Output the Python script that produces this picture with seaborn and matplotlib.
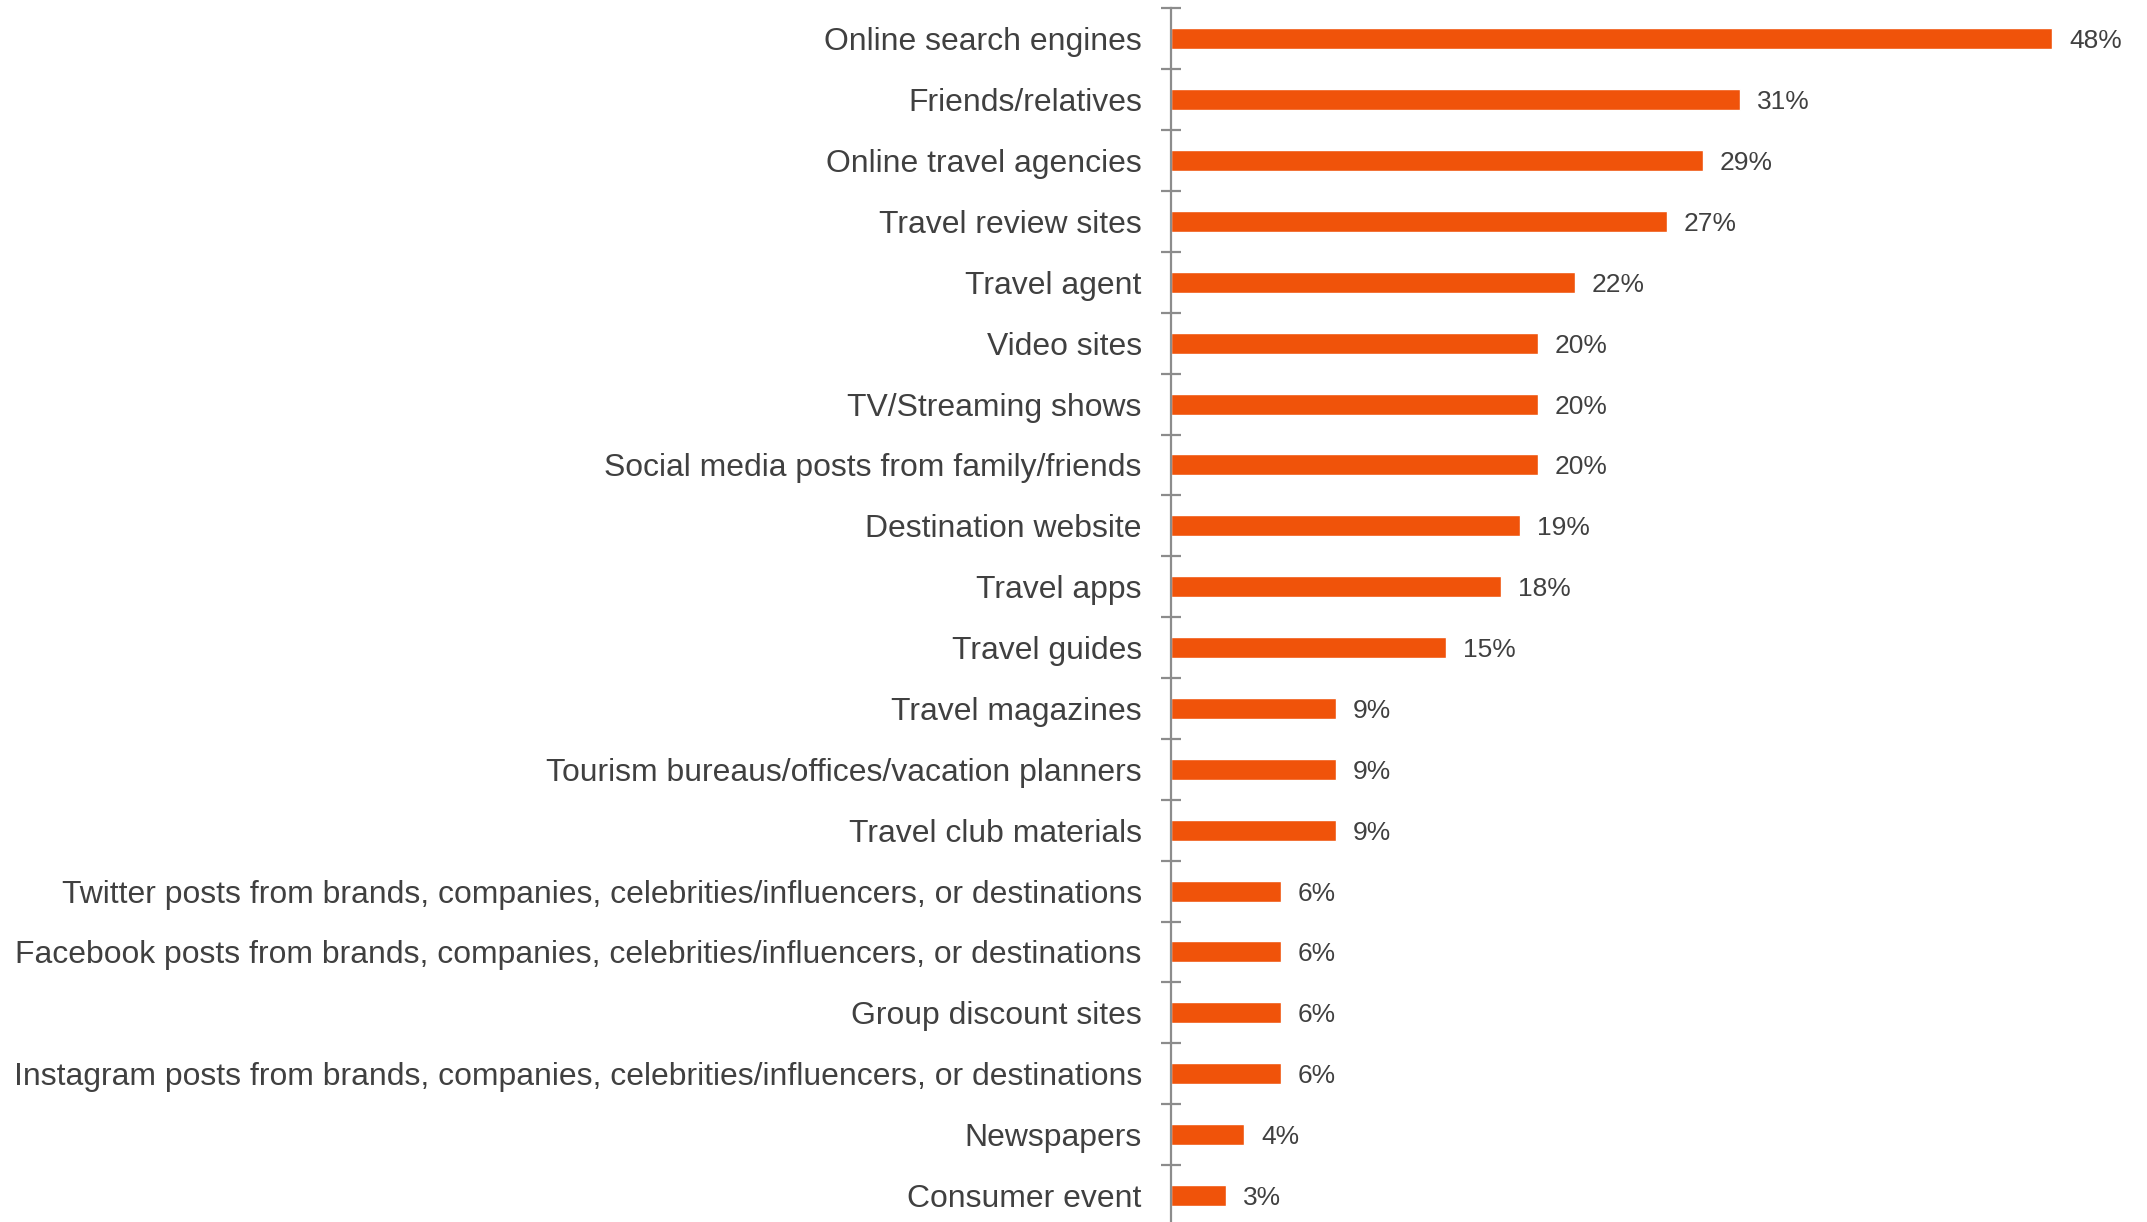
import matplotlib
matplotlib.use("Agg")
import matplotlib.pyplot as plt
import seaborn as sns
import pandas as pd
import numpy as np

categories = [
    "Online search engines",
    "Friends/relatives",
    "Online travel agencies",
    "Travel review sites",
    "Travel agent",
    "Video sites",
    "TV/Streaming shows",
    "Social media posts from family/friends",
    "Destination website",
    "Travel apps",
    "Travel guides",
    "Travel magazines",
    "Tourism bureaus/offices/vacation planners",
    "Travel club materials",
    "Twitter posts from brands, companies, celebrities/influencers, or destinations",
    "Facebook posts from brands, companies, celebrities/influencers, or destinations",
    "Group discount sites",
    "Instagram posts from brands, companies, celebrities/influencers, or destinations",
    "Newspapers",
    "Consumer event",
]
values = [48, 31, 29, 27, 22, 20, 20, 20, 19, 18, 15, 9, 9, 9, 6, 6, 6, 6, 4, 3]

BAR_COLOR = "#F0530A"
TEXT_COLOR = "#404040"
AXIS_COLOR = "#8C8C8C"

sns.set_theme(style="white")
plt.rcParams["font.family"] = ["Liberation Sans", "DejaVu Sans"]

df = pd.DataFrame({"source": categories, "share": values})

W, H = 2147, 1222
fig = plt.figure(figsize=(W / 100, H / 100), dpi=100)

n = len(categories)
first_c, last_c = 38.8, 1195.5
step = (last_c - first_c) / (n - 1)
top_px = first_c - step / 2
bot_px = last_c + step / 2
left_px = 1171
px_per_unit = 18.36
xmax = 52
ax = fig.add_axes([left_px / W, 1 - bot_px / H,
                   xmax * px_per_unit / W, (bot_px - top_px) / H])

sns.barplot(data=df, y="source", x="share", orient="h", color=BAR_COLOR,
            width=0.345, saturation=1, ax=ax)

ax.set_xlim(0, xmax)
ax.set_ylim(n - 0.5, -0.5)
ax.set_xlabel("")
ax.set_ylabel("")
ax.set_xticks([])

for s in ["top", "right", "bottom"]:
    ax.spines[s].set_visible(False)
ax.spines["left"].set_color(AXIS_COLOR)
ax.spines["left"].set_linewidth(1.6)

ax.set_yticks(np.arange(-0.5, n, 1.0), minor=True)
ax.tick_params(axis="y", which="minor", direction="inout", length=14,
               width=1.6, color=AXIS_COLOR, left=True)
ax.tick_params(axis="y", which="major", length=0, pad=21,
               labelsize=22.95, labelcolor=TEXT_COLOR)

for i, v in enumerate(values):
    ax.annotate(f"{v}%", xy=(v, i), xytext=(12, 0), textcoords="offset points",
                va="center_baseline", ha="left", fontsize=19, color=TEXT_COLOR)

fig.savefig("out.png", dpi=100)
